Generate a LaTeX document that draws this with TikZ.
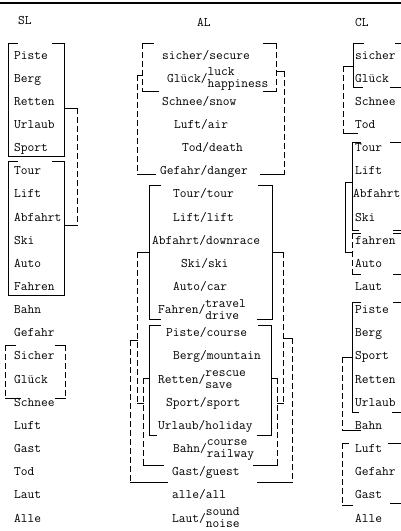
\documentclass[tikz,border=0pt]{standalone}
\usepackage{fontspec}
\newcommand\stk[2]{\begin{tabular}[c]{@{}l@{}}#1\\#2\end{tabular}}
\newcommand\myV[4][dsh]{\draw[#1] (#2,#3) -- (#2,#4);}
\newcommand\myH[3]{\draw[sol] (#2,#1) -- (#3,#1);}
\tikzset{
  w/.style={anchor=west, inner sep=0pt, font=\ttfamily\fontsize{13.1}{12}\selectfont, text height=8pt, text depth=0pt},
  sol/.style={line width=1pt, line cap=rect},
  dsh/.style={line width=1pt, dash pattern=on 6pt off 3pt},
}
\begin{document}
\begin{tikzpicture}[x=1pt,y=-1pt]
\useasboundingbox (0,0) rectangle (401,531);
\draw[line width=1.5pt] (0,3) -- (401,3);
% headers
\node[w] (hs) at (18,20) {SL};
\node[w] (ha) at (197,22) {AL};
\node[w] (hc) at (355,22) {CL};
% SL column
\foreach \i/\txt in {1/Piste,2/Berg,3/Retten,4/Urlaub,5/Sport,6/Tour,7/Lift,8/Abfahrt,9/Ski,10/Auto,11/Fahren,12/Bahn,13/Gefahr,14/Sicher,15/Glück,16/Schnee,17/Luft,18/Gast,19/Tod,20/Laut,21/Alle}
  \node[w] (s\i) at (14,{55+23.15*(\i-1)}) {\txt};
% AL column
\foreach \i/\x/\txt in {1/162/{sicher/secure},2/167/{Glück/\stk{luck}{happiness}},3/162/{Schnee/snow},4/174/{Luft/air},5/182/{Tod/death},6/160/{Gefahr/danger},7/173/{Tour/tour},8/173/{Lift/lift},9/152/{Abfahrt/downrace},10/181/{Ski/ski},11/173/{Auto/car},12/158/{Fahren/\stk{travel}{drive}},13/166/{Piste/course},14/173/{Berg/mountain},15/158/{Retten/\stk{rescue}{save}},16/166/{Sport/sport},17/158/{Urlaub/holiday},18/173/{Bahn/\stk{course}{railway}},19/172/{Gast/guest},20/172/{alle/all},21/172/{Laut/\stk{sound}{noise}}}
  \node[w] (a\i) at (\x,{55+23.15*(\i-1)}) {\txt};
% CL column
\foreach \i/\x/\txt in {1/355/sicher,2/355/Glück,3/355/Schnee,4/355/Tod,5/355/Tour,6/355/Lift,7/353/Abfahrt,8/355/Ski,9/355/fahren,10/355/Auto,11/355/Laut,12/355/Piste,13/355/Berg,14/355/Sport,15/355/Retten,16/355/Urlaub,17/355/Bahn,18/355/Luft,19/355/Gefahr,20/355/Gast,21/355/Alle}
  \node[w] (c\i) at (\x,{55+23.15*(\i-1)}) {\txt};
% ---- SL brackets
\draw[sol] (17,43) -- (8,43) -- (8,156) -- (64,156) -- (64,43) -- (52,43);
\myH{108}{64}{77}\myV{77}{108}{225}\myH{225}{64}{77}
\draw[sol] (17,161) -- (8,161) -- (8,295) -- (64,295) -- (64,161) -- (52,161);
\myV{5}{345}{398}\myV{65}{345}{398}
\myH{345}{5}{15}\myH{345}{55}{65}\myH{398}{5}{20}\myH{398}{55}{65}
% ---- AL brackets
% A1
\myV{142}{43}{91}\myV{276}{43}{91}
\myH{43}{142}{153}\myH{43}{263}{276}\myH{91}{142}{158}\myH{91}{263}{276}
% A2
\myV{137}{75}{174}\myV{284}{71}{174}
\myH{75}{137}{142}\myH{71}{276}{284}\myH{174}{137}{155}\myH{174}{260}{284}
% A3
\myV[sol]{149}{185}{319}\myV[sol]{272}{185}{319}
\myH{185}{149}{160}\myH{185}{258}{272}\myH{319}{149}{160}\myH{319}{257}{272}
% A4
\myV{137}{252}{403}\myV{283}{252}{403}
\myH{252}{137}{149}\myH{252}{272}{283}\myH{403}{137}{143}\myH{403}{277}{283}
% A5
\myV[sol]{149}{325}{435}\myV[sol]{271}{325}{435}
\myH{325}{149}{160}\myH{325}{258}{271}\myH{435}{149}{156}\myH{435}{257}{271}
% A6
\myV{143}{378}{465}\myV{277}{378}{465}
\myH{378}{143}{149}\myH{378}{271}{277}\myH{465}{143}{163}\myH{465}{253}{277}
% A7
\myV{130}{340}{482}\myV{292}{338}{482}
\myH{340}{130}{137}\myH{338}{283}{292}\myH{482}{130}{167}\myH{482}{257}{292}
% ---- CL brackets
\myV[sol]{353}{43}{87}
\myH{43}{353}{363}\myH{43}{395}{401}\myH{87}{353}{362}\myH{87}{390}{401}
\myV{343}{66}{133}\myH{66}{343}{353}\myH{133}{343}{357}
\myV[sol]{352}{142}{230}
\myH{142}{352}{360}\myH{142}{390}{401}\myH{230}{352}{358}\myH{230}{393}{401}
\myV{352}{233}{274}
\myH{233}{352}{360}\myH{233}{393}{401}\myH{274}{352}{360}\myH{274}{393}{401}
\myV[sol]{345}{182}{252}\myH{182}{345}{352}\myH{252}{345}{352}
\myV[sol]{352}{302}{412}
\myH{302}{352}{360}\myH{302}{393}{401}\myH{412}{352}{358}\myH{412}{392}{401}
\myV{342}{357}{430}\myH{357}{342}{352}\myH{430}{342}{360}
\myV{342}{443}{505}
\myH{443}{342}{348}\myH{443}{388}{401}\myH{505}{342}{352}\myH{503}{390}{401}
\end{tikzpicture}
\end{document}
